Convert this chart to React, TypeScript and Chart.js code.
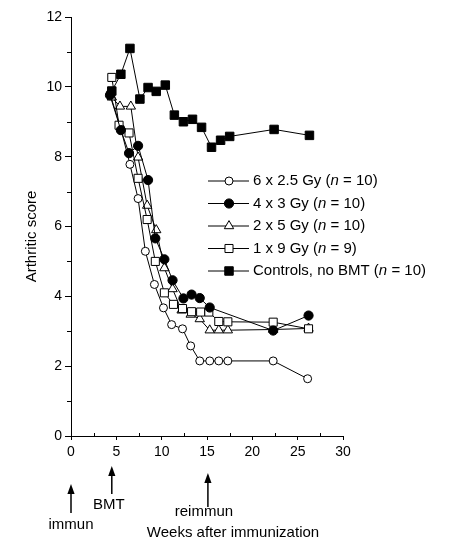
import React, { useEffect, useRef } from 'react';
import { Chart, registerables } from 'chart.js';

Chart.register(...registerables);

// ---- data ----
const seriesLabels = ['6 x 2.5 Gy', '4 x 3 Gy', '2 x 5 Gy', '1 x 9 Gy', 'Controls, no BMT'];
const seriesN = [10, 10, 10, 9, 10];

const gy6x25Weeks = [4.3, 5.5, 6.5, 7.4, 8.2, 9.2, 10.2, 11.1, 12.3, 13.2, 14.2, 15.3, 16.3, 17.3, 22.3, 26.1];
const gy6x25Scores = [9.8, 8.8, 7.78, 6.8, 5.29, 4.34, 3.67, 3.19, 3.07, 2.58, 2.15, 2.15, 2.15, 2.15, 2.15, 1.64];

const gy4x3Weeks = [4.3, 5.5, 6.4, 7.4, 8.5, 9.3, 10.3, 11.2, 12.4, 13.3, 14.2, 15.3, 22.3, 26.2];
const gy4x3Scores = [9.76, 8.76, 8.1, 8.31, 7.33, 5.66, 5.06, 4.46, 3.94, 4.05, 3.95, 3.68, 3.02, 3.45];

const gy2x5Weeks = [4.5, 5.4, 6.6, 7.4, 8.4, 9.4, 10.3, 11.2, 12.2, 13.2, 14.2, 15.3, 16.3, 17.3, 22.3, 26.2];
const gy2x5Scores = [9.7, 9.44, 9.44, 7.98, 6.6, 5.9, 4.81, 4.21, 3.6, 3.48, 3.35, 3.03, 3.03, 3.03, 3.05, 3.08];

const gy1x9Weeks = [4.5, 5.3, 6.4, 7.4, 8.4, 9.3, 10.3, 11.3, 12.3, 13.3, 14.3, 15.2, 16.3, 17.3, 22.3, 26.2];
const gy1x9Scores = [10.27, 8.9, 8.68, 7.38, 6.2, 5.0, 4.1, 3.77, 3.65, 3.56, 3.55, 3.55, 3.28, 3.27, 3.26, 3.07];

const controlWeeks = [4.5, 5.5, 6.5, 7.6, 8.5, 9.4, 10.4, 11.4, 12.4, 13.4, 14.4, 15.5, 16.5, 17.5, 22.4, 26.3];
const controlScores = [9.88, 10.36, 11.1, 9.65, 9.98, 9.87, 10.05, 9.19, 9.0, 9.07, 8.84, 8.27, 8.47, 8.58, 8.78, 8.61];

const xMin = 0;
const xMax = 30;
const xMajorStep = 5;
const xMinorStep = 2.5;
const yMin = 0;
const yMax = 12;
const yMajorStep = 2;

const eventWeeks = [0, 4.5, 15.1];
const eventLabels = ['immun', 'BMT', 'reimmun'];

const xTitle = 'Weeks after immunization';
const yTitle = 'Arthritic score';

// ---- styles ----
const FONT = '"Liberation Sans", Arial, Helvetica, sans-serif';
type MarkerStyle = { shape: 'circle' | 'rect' | 'triangle'; radius: number; fill: string };
const markerStyles: MarkerStyle[] = [
  { shape: 'circle', radius: 4, fill: '#ffffff' },
  { shape: 'circle', radius: 4.6, fill: '#000000' },
  { shape: 'triangle', radius: 5.4, fill: '#ffffff' },
  { shape: 'rect', radius: 5.7, fill: '#ffffff' },
  { shape: 'rect', radius: 6, fill: '#000000' },
];
// draw order: lower "order" drawn on top
const drawOrders = [5, 2, 4, 3, 1];

function drawMarker(ctx: CanvasRenderingContext2D, m: MarkerStyle, x: number, y: number) {
  ctx.save();
  ctx.beginPath();
  const r = m.radius;
  if (m.shape === 'circle') {
    ctx.arc(x, y, r, 0, Math.PI * 2);
  } else if (m.shape === 'rect') {
    const s = r * Math.SQRT1_2;
    ctx.rect(x - s, y - s, 2 * s, 2 * s);
  } else {
    ctx.moveTo(x, y - r);
    ctx.lineTo(x + r * Math.sin((2 * Math.PI) / 3), y - r * Math.cos((2 * Math.PI) / 3));
    ctx.lineTo(x + r * Math.sin((4 * Math.PI) / 3), y - r * Math.cos((4 * Math.PI) / 3));
    ctx.closePath();
  }
  ctx.fillStyle = m.fill;
  ctx.fill();
  ctx.lineWidth = 1;
  ctx.strokeStyle = '#000';
  ctx.stroke();
  ctx.restore();
}

const legendPlugin = {
  id: 'customLegend',
  afterDraw(chart: any) {
    const { ctx, chartArea } = chart;
    const lx0 = chartArea.left + 137;
    const lx1 = lx0 + 41;
    const mx = lx0 + 21;
    const tx = lx0 + 45;
    const y0 = chartArea.top + 164;
    const gap = 22.5;
    ctx.save();
    seriesLabels.forEach((label, i) => {
      const y = y0 + i * gap;
      ctx.beginPath();
      ctx.moveTo(lx0, y);
      ctx.lineTo(lx1, y);
      ctx.lineWidth = 1;
      ctx.strokeStyle = '#000';
      ctx.stroke();
      drawMarker(ctx, markerStyles[i], mx, y);
      ctx.fillStyle = '#000';
      ctx.textBaseline = 'middle';
      ctx.textAlign = 'left';
      const part1 = `${label} (`;
      const part2 = 'n';
      const part3 = ` = ${seriesN[i]})`;
      let x = tx;
      ctx.font = `15px ${FONT}`;
      ctx.fillText(part1, x, y);
      x += ctx.measureText(part1).width;
      ctx.font = `italic 15px ${FONT}`;
      ctx.fillText(part2, x, y);
      x += ctx.measureText(part2).width;
      ctx.font = `15px ${FONT}`;
      ctx.fillText(part3, x, y);
    });
    ctx.restore();
  },
};

const annotationPlugin = {
  id: 'annotations',
  afterDraw(chart: any) {
    const { ctx, chartArea, scales } = chart;
    const xs = scales.x;
    const ys = scales.y;
    const base = chartArea.bottom;
    ctx.save();
    ctx.strokeStyle = '#000';
    ctx.fillStyle = '#000';

    // minor ticks
    ctx.lineWidth = 1;
    for (let v = yMin + 1; v < yMax; v += yMajorStep) {
      const py = Math.round(ys.getPixelForValue(v)) + 0.5;
      ctx.beginPath();
      ctx.moveTo(chartArea.left - 4, py);
      ctx.lineTo(chartArea.left, py);
      ctx.stroke();
    }
    for (let v = xMin + xMinorStep; v < xMax; v += xMajorStep) {
      const px = Math.round(xs.getPixelForValue(v)) + 0.5;
      ctx.beginPath();
      ctx.moveTo(px, base - 3);
      ctx.lineTo(px, base);
      ctx.stroke();
    }

    // event arrows
    const geo = [
      { top: 48, bottom: 77, text: 89, dx: 0 },
      { top: 30, bottom: 58, text: 69, dx: -3 },
      { top: 37, bottom: 71, text: 76, dx: -4 },
    ];
    ctx.font = `15px ${FONT}`;
    ctx.textAlign = 'center';
    ctx.textBaseline = 'middle';
    eventWeeks.forEach((w, i) => {
      const px = xs.getPixelForValue(w);
      const g = geo[i];
      ctx.beginPath();
      ctx.lineWidth = 1.5;
      ctx.moveTo(px, base + g.top + 6);
      ctx.lineTo(px, base + g.bottom);
      ctx.stroke();
      ctx.beginPath();
      ctx.moveTo(px, base + g.top);
      ctx.lineTo(px + 3.6, base + g.top + 10);
      ctx.lineTo(px - 3.6, base + g.top + 10);
      ctx.closePath();
      ctx.fill();
      ctx.fillText(eventLabels[i], px + g.dx, base + g.text);
    });

    // axis titles
    ctx.fillText(xTitle, chartArea.left + 162, base + 97);
    ctx.save();
    ctx.translate(chartArea.left - 39, (chartArea.top + chartArea.bottom) / 2 + 10);
    ctx.rotate(-Math.PI / 2);
    ctx.fillText(yTitle, 0, 0);
    ctx.restore();
    ctx.restore();
  },
};

function makeDataset(i: number, weeks: number[], scores: number[]) {
  const m = markerStyles[i];
  return {
    label: seriesLabels[i],
    data: weeks.map((w, k) => ({ x: w, y: scores[k] })),
    borderColor: '#000',
    borderWidth: 1,
    backgroundColor: m.fill,
    pointStyle: m.shape,
    pointRadius: m.radius,
    pointBackgroundColor: m.fill,
    pointBorderColor: '#000',
    pointBorderWidth: 1,
    tension: 0,
    fill: false,
    order: drawOrders[i],
  };
}

export default function App() {
  const canvasRef = useRef<HTMLCanvasElement | null>(null);

  useEffect(() => {
    if (!canvasRef.current) return;
    const chart = new Chart(canvasRef.current, {
      type: 'line',
      data: {
        datasets: [
          makeDataset(0, gy6x25Weeks, gy6x25Scores),
          makeDataset(1, gy4x3Weeks, gy4x3Scores),
          makeDataset(2, gy2x5Weeks, gy2x5Scores),
          makeDataset(3, gy1x9Weeks, gy1x9Scores),
          makeDataset(4, controlWeeks, controlScores),
        ] as any,
      },
      options: {
        animation: false,
        responsive: true,
        maintainAspectRatio: false,
        layout: { padding: { left: 0, right: 110, top: 17, bottom: 0 } },
        plugins: {
          legend: { display: false },
          tooltip: { enabled: false },
          title: { display: false },
        },
        scales: {
          x: {
            type: 'linear',
            min: xMin,
            max: xMax,
            afterFit: (scale: any) => {
              scale.height = 112;
            },
            border: { display: true, color: '#000', width: 1 },
            grid: {
              drawOnChartArea: false,
              drawTicks: true,
              tickLength: 4,
              tickColor: (ctx: any) => (ctx.tick && ctx.tick.value % xMajorStep === 0 ? '#000' : 'rgba(0,0,0,0)'),
            },
            ticks: {
              stepSize: xMinorStep,
              autoSkip: false,
              maxRotation: 0,
              padding: 4,
              color: '#000',
              font: { family: FONT, size: 14 },
              callback: (v: any) => (Number(v) % xMajorStep === 0 ? String(v) : ''),
            },
          },
          y: {
            type: 'linear',
            min: yMin,
            max: yMax,
            afterFit: (scale: any) => {
              scale.width = 71;
            },
            border: { display: true, color: '#000', width: 1 },
            grid: {
              drawOnChartArea: false,
              drawTicks: true,
              tickLength: 6,
              tickColor: (ctx: any) => (ctx.tick && ctx.tick.value % yMajorStep === 0 ? '#000' : 'rgba(0,0,0,0)'),
            },
            ticks: {
              stepSize: 1,
              autoSkip: false,
              padding: 3,
              color: '#000',
              font: { family: FONT, size: 14 },
              callback: (v: any) => (Number(v) % yMajorStep === 0 ? String(v) : ''),
            },
          },
        },
      } as any,
      plugins: [legendPlugin, annotationPlugin],
    });
    return () => chart.destroy();
  }, []);

  return (
    <div style={{ position: 'absolute', left: 0, top: 0, width: 453, height: 548, background: '#fff' }}>
      <canvas ref={canvasRef} />
    </div>
  );
}
